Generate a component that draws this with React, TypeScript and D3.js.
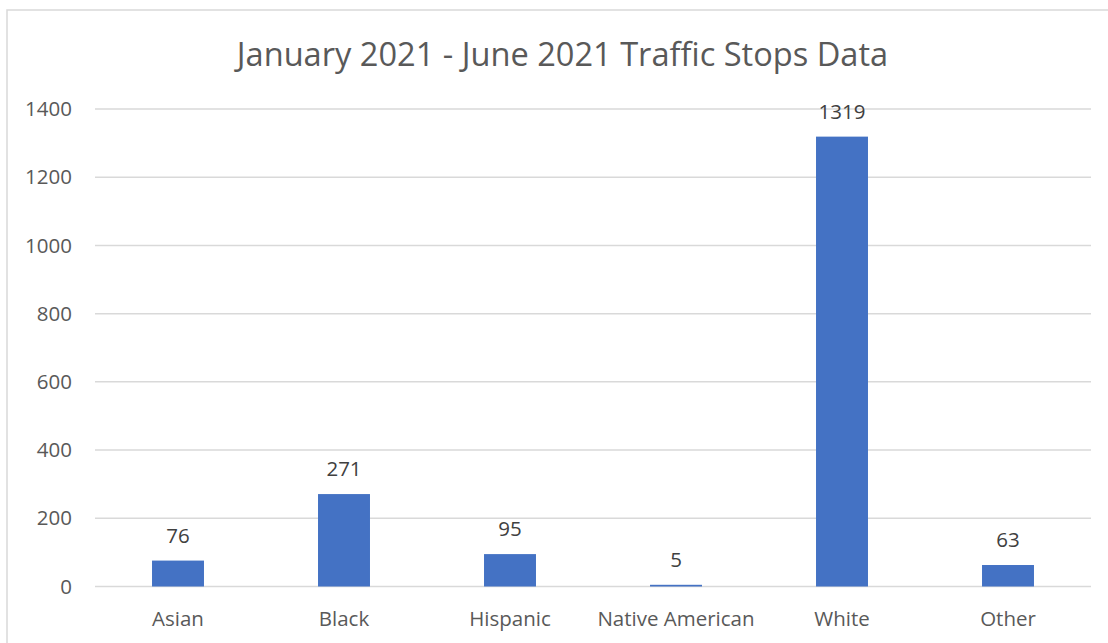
import React from "react";
import * as d3 from "d3";

const categories = ["Asian", "Black", "Hispanic", "Native American", "White", "Other"];
const values = [76, 271, 95, 5, 1319, 63];
const yTicks = [0, 200, 400, 600, 800, 1000, 1200, 1400];
const title = "January 2021 - June 2021 Traffic Stops Data";

const W = 1108;
const H = 643;
const FONT = "'Open Sans', 'Noto Sans', sans-serif";

export default function App() {
  const x = d3.scaleBand<string>().domain(categories).range([95, 1091]).paddingInner(0.687).paddingOuter(0.3435);
  const y = d3.scaleLinear().domain([0, 1400]).range([586.5, 109]);
  const bw = x.bandwidth();

  return (
    <div style={{ position: "absolute", left: 0, top: 0 }}>
      <svg width={W} height={H} style={{ display: "block" }}>
        <rect x={0} y={0} width={W} height={H} fill="#ffffff" />
        <rect x={7} y={10} width={1200} height={800} fill="#ffffff" stroke="#D9D9D9" strokeWidth={1.5} />
        <text x={562.5} y={66} textAnchor="middle" fontFamily={FONT} fontSize={32.6} fill="#595959">
          {title}
        </text>
        {yTicks.map((t) => (
          <g key={t}>
            <line x1={95} x2={1091} y1={y(t)} y2={y(t)} stroke="#D9D9D9" strokeWidth={1.5} />
            <text x={72} y={y(t)} dy="0.35em" textAnchor="end" fontFamily={FONT} fontSize={20.5} fill="#595959">
              {t}
            </text>
          </g>
        ))}
        {categories.map((c, i) => (
          <g key={c}>
            <rect x={x(c)} y={y(values[i])} width={bw} height={y(0) - y(values[i])} fill="#4472C4" />
            <text x={(x(c) as number) + bw / 2} y={y(values[i]) - 18} textAnchor="middle" fontFamily={FONT} fontSize={20.5} fill="#404040">
              {values[i]}
            </text>
            <text x={(x(c) as number) + bw / 2} y={626} textAnchor="middle" fontFamily={FONT} fontSize={20.5} fill="#595959">
              {c}
            </text>
          </g>
        ))}
      </svg>
    </div>
  );
}
